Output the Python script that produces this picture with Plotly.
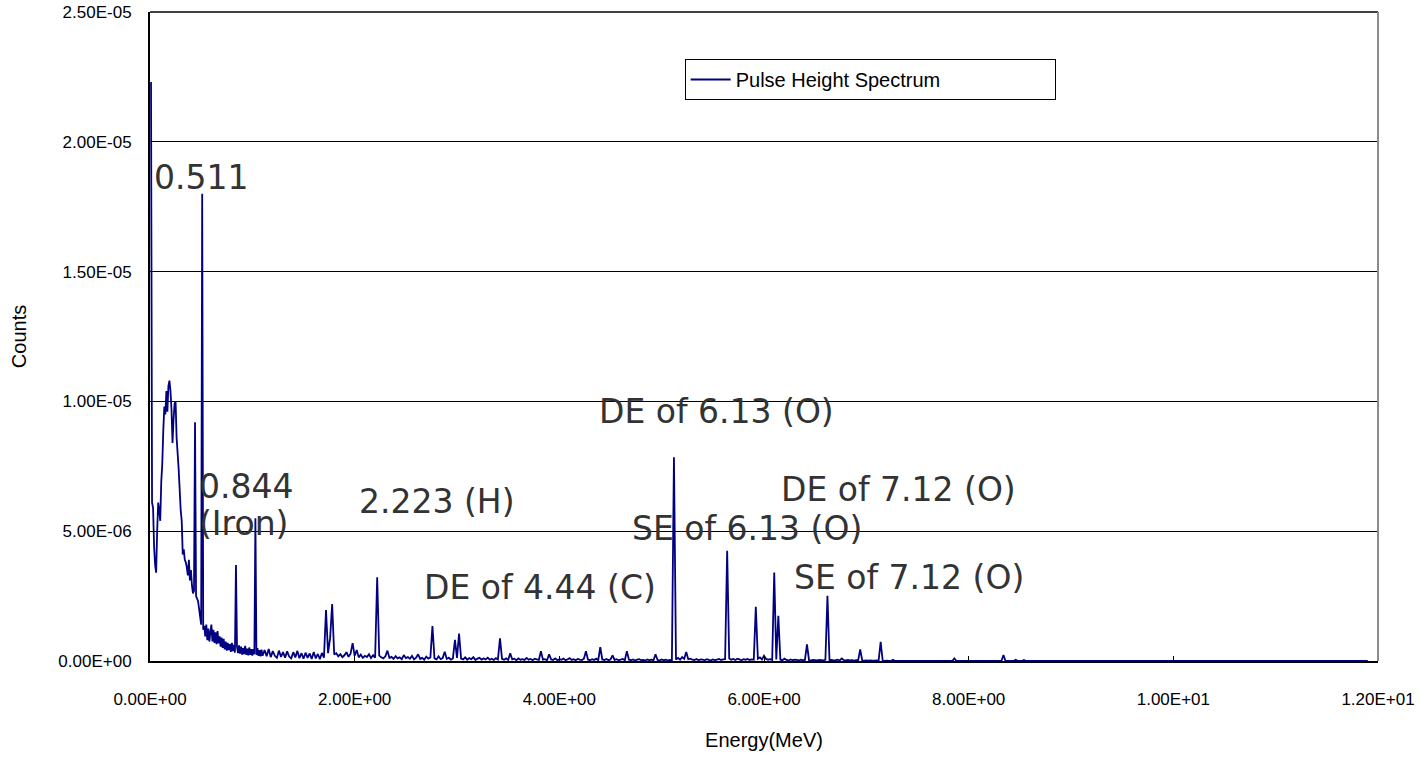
import numpy as np
import plotly.graph_objects as go

# ---- data (counts in units of 1e-7) ----
# segment 1: channels 0.01 .. 1.10 MeV, width 0.01 MeV
seg1_start_mev = 0.01
seg1_width_mev = 0.01
seg1_counts_e7 = [
    223, 61, 59, 44, 37, 34, 50, 61, 58, 54,
    69, 76, 89, 98, 95, 104, 96, 106, 108, 104,
    97, 84, 93, 99, 100, 86, 80, 74, 66, 58,
    54, 41, 43, 39, 38, 36, 33, 39, 31, 35,
    29, 26, 27, 92, 25, 24, 23, 20, 17, 14,
    180, 12, 13.5, 9.5, 14, 8, 12.5, 7.5, 11, 14,
    7.5, 12, 7, 11, 6.5, 11.5, 6.8, 9.5, 5.5, 9,
    5, 8.5, 4.5, 7.5, 4, 7, 4.2, 6.5, 3.5, 7,
    3.8, 6.2, 3.2, 37, 5.5, 3, 6, 2.8, 5.5, 2.5,
    5, 2.6, 5.8, 2.4, 4.8, 2.2, 5.2, 2.4, 4.6, 2.1,
    4.6, 2.6, 55, 2.4, 5, 2, 4.2, 1.8, 4.4, 2,
]
# segment 2: channels 1.12 .. 7.40 MeV, width 0.02 MeV
seg2_start_mev = 1.12
seg2_width_mev = 0.02
seg2_counts_e7 = [
    4.2, 1.8, 4.6, 1.5, 3.8, 2.0, 1.2, 4.0, 1.6, 3.4,
    1.3, 3.7, 1.7, 1.0, 3.4, 1.4, 3.9, 1.1, 3.0, 0.9,
    3.2, 1.2, 2.9, 0.8, 3.5, 1.0, 2.7, 0.7, 3.1, 1.3,
    19.6, 3.0, 8.8, 21.9, 2.5, 3.0, 1.8, 2.6, 1.5, 2.2,
    3.4, 1.6, 2.8, 6.9, 2.0, 4.2, 1.4, 2.5, 1.2, 2.0,
    1.5, 2.6, 1.1, 2.2, 1.3, 32.3, 2.1, 1.4, 1.0, 1.8,
    4.0, 1.2, 1.6, 0.8, 1.9, 1.0, 1.4, 0.7, 2.3, 1.1,
    1.5, 0.9, 2.0, 0.6, 1.3, 2.6, 0.8, 1.2, 0.5, 1.7,
    0.9, 1.4, 13.5, 1.0, 0.6, 1.8, 0.7, 1.1, 3.6, 0.8,
    1.3, 0.5, 1.0, 8.1, 1.2, 10.6, 0.9, 0.6, 1.4, 0.5,
    1.1, 0.7, 1.5, 0.4, 0.9, 1.2, 0.5, 1.0, 0.6, 1.3,
    0.5, 0.9, 0.4, 1.1, 0.6, 8.7, 0.8, 0.5, 1.0, 0.4,
    3.0, 0.6, 0.9, 0.3, 1.0, 0.5, 0.7, 0.4, 1.2, 0.5,
    0.8, 0.3, 0.9, 0.6, 0.4, 3.8, 0.5, 0.7, 0.3, 2.6,
    0.6, 0.4, 1.0, 0.3, 0.7, 0.5, 0.9, 0.3, 0.6, 1.1,
    0.4, 0.7, 0.3, 0.8, 0.5, 0.4, 0.9, 3.8, 0.5, 0.3,
    0.7, 0.4, 0.9, 0.3, 5.3, 0.6, 0.4, 0.8, 0.3, 0.6,
    2.2, 0.4, 0.7, 0.3, 0.5, 0.8, 0.3, 3.8, 0.5, 0.3,
    0.6, 0.2, 0.5, 0.7, 0.3, 0.4, 0.2, 0.6, 0.3, 0.5,
    0.3, 2.6, 0.4, 0.2, 0.6, 0.3, 0.5, 0.2, 0.4, 0.3,
    78.5, 0.6, 1.2, 0.5, 1.5, 0.8, 3.5, 0.7, 0.9, 0.5,
    0.4, 0.8, 0.3, 0.6, 0.5, 0.3, 0.7, 0.4, 0.2, 0.6,
    0.3, 0.5, 0.8, 0.4, 0.6, 0.7, 42.5, 1.0, 0.5, 0.8,
    0.4, 0.9, 0.6, 0.3, 0.7, 0.5, 0.8, 0.4, 0.6, 0.5,
    20.9, 0.9, 1.4, 0.6, 2.0, 0.8, 0.5, 0.7, 0.4, 34.1,
    0.6, 17.4, 0.5, 0.3, 0.9, 0.4, 0.2, 0.6, 0.3, 0.5,
    0.4, 0.2, 0.5, 0.3, 0.4, 6.4, 0.3, 0.2, 0.4, 0.3,
    0.2, 0.4, 0.3, 0.2, 0.5, 25.1, 0.3, 0.4, 0.2, 0.3,
    0.5, 0.2, 1.0, 0.3, 0.2, 0.4, 0.2, 0.3, 0.1, 0.3,
    0.2, 4.5, 0.2, 0.1, 0.2, 0.1, 0.2, 0.1, 0.1, 0.2,
    0.1, 7.4, 0.1, 0, 0.1, 0, 0, 0.5, 0, 0,
    0, 0, 0, 0, 0,
]
# tail: sparse channels above 7.4 MeV
tail_energy_mev = [7.42, 7.84, 7.86, 7.88, 8.32, 8.34, 8.36, 8.44, 8.46, 8.48, 8.52, 8.54, 8.56, 11.9]
tail_counts_e7 = [0, 0, 1.0, 0, 0, 2.3, 0, 0, 0.5, 0, 0, 0.4, 0, 0]

count_unit = 1e-7

x_tick_vals = [0, 2, 4, 6, 8, 10, 12]
x_tick_text = ["0.00E+00", "2.00E+00", "4.00E+00", "6.00E+00", "8.00E+00", "1.00E+01", "1.20E+01"]
y_tick_vals = [0, 5e-6, 1e-5, 1.5e-5, 2e-5, 2.5e-5]
y_tick_text = ["0.00E+00", "5.00E-06", "1.00E-05", "1.50E-05", "2.00E-05", "2.50E-05"]

peak_labels = ["0.511", "0.844", "(Iron)", "2.223 (H)", "DE of 4.44 (C)",
               "DE of 6.13 (O)", "DE of 7.12 (O)", "SE of 6.13 (O)", "SE of 7.12 (O)"]

# ---- build ----
e1 = np.round(seg1_start_mev + seg1_width_mev * np.arange(len(seg1_counts_e7)), 4)
e2 = np.round(seg2_start_mev + seg2_width_mev * np.arange(len(seg2_counts_e7)), 4)
energy = np.concatenate([e1, e2, np.array(tail_energy_mev)])
counts = np.concatenate([seg1_counts_e7, seg2_counts_e7, tail_counts_e7]) * count_unit

fig = go.Figure()
fig.add_trace(go.Scatter(
    x=energy, y=counts, mode="lines", name="Pulse Height Spectrum",
    line=dict(color="#000080", width=1.8, simplify=False),
))

tick_font = dict(family="Liberation Sans, Arial, sans-serif", size=17, color="black")

fig.update_layout(
    width=1427, height=757,
    margin=dict(l=150, r=49, t=12, b=96, autoexpand=False),
    paper_bgcolor="white", plot_bgcolor="white",
    showlegend=True,
    legend=dict(
        x=0.4354, y=0.9276, xanchor="left", yanchor="top",
        orientation="h", entrywidth=314, itemwidth=40,
        bgcolor="white", bordercolor="black", borderwidth=1,
        font=dict(family="Liberation Sans, Arial, sans-serif", size=20, color="black"),
    ),
    xaxis=dict(
        range=[0, 12], tickmode="array", tickvals=x_tick_vals, ticktext=x_tick_text,
        ticks="inside", ticklen=5, tickcolor="black", tickwidth=1,
        showline=True, linecolor="black", linewidth=2,
        showgrid=False, zeroline=False, tickfont=tick_font,
        ticklabelstandoff=22,
        title=dict(text="Energy(MeV)", standoff=25,
                   font=dict(family="Liberation Sans, Arial, sans-serif", size=20, color="black")),
    ),
    yaxis=dict(
        range=[0, 2.5e-5], tickmode="array", tickvals=y_tick_vals, ticktext=y_tick_text,
        ticks="inside", ticklen=7, tickcolor="black", tickwidth=1,
        showline=True, linecolor="black", linewidth=2,
        showgrid=True, gridcolor="black", gridwidth=1, zeroline=False,
        tickfont=tick_font, ticklabelstandoff=13, ticklabeloverflow="allow",
        title=dict(text="Counts", standoff=26,
                   font=dict(family="Liberation Sans, Arial, sans-serif", size=20, color="black")),
    ),
)

# top (black) and right (grey) borders of the plot area
fig.add_shape(type="line", xref="paper", yref="paper", x0=0, x1=1, y0=1, y1=1,
              line=dict(color="black", width=1.5))
fig.add_shape(type="line", xref="paper", yref="paper", x0=1, x1=1, y0=0, y1=1,
              line=dict(color="#8c8c8c", width=2))

label_x = [0.015, 0.455, 0.455, 2.019, 2.654, 4.365, 6.144, 4.687, 6.271]
label_y = [1.862e-5, 6.73e-6, 5.31e-6, 6.15e-6, 2.85e-6, 9.62e-6, 6.62e-6, 5.12e-6, 3.23e-6]
for txt, lx, ly in zip(peak_labels, label_x, label_y):
    fig.add_annotation(x=lx, y=ly, xref="x", yref="y", text=txt, showarrow=False,
                       xanchor="left", yanchor="middle",
                       font=dict(family="DejaVu Sans, Verdana, sans-serif", size=33, color="#333333"))

# remove the browser's default 8px body margin so the figure fills the window exactly
fig.write_html("out.html", config={"displayModeBar": False},
               post_script="document.body.style.margin='0';document.body.style.overflow='hidden';")
